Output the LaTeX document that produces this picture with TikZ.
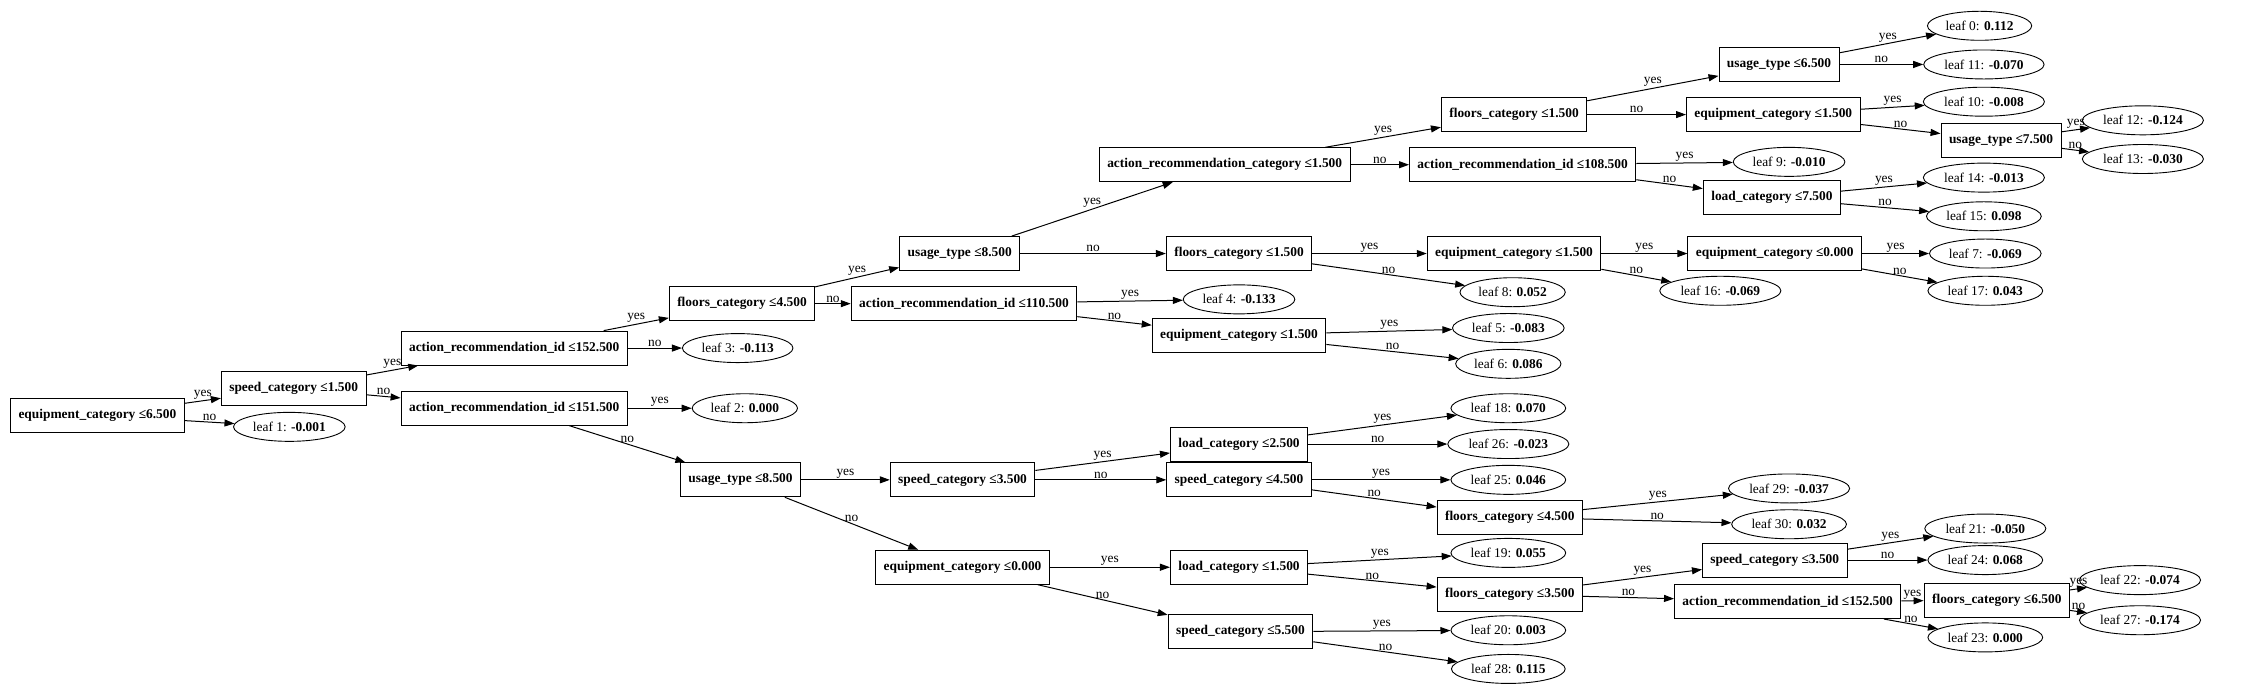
\documentclass[tikz,border=0pt]{standalone}
\usepackage{fontspec}
\setmainfont{Liberation Serif}
\usetikzlibrary{shapes.geometric,arrows.meta}
\tikzset{
  splitbox/.style={draw, line width=0.9pt, rectangle, minimum height=34pt, inner xsep=8pt, inner ysep=0pt, font=\bfseries},
  leafnode/.style={draw, line width=0.9pt, ellipse, minimum height=29pt, inner xsep=3pt, inner ysep=0pt},
  branch/.style={line width=1pt, -{Triangle[length=10pt,width=7pt]}},
  brlabel/.style={midway, above, inner sep=1pt}
}
\begin{document}
\fontsize{13.4pt}{15pt}\selectfont
\begin{tikzpicture}[x=1.4324pt, y=-1.4324pt]
\useasboundingbox[fill=white] (0,0) rectangle (1568,488);
\node[splitbox] (root) at (68,290) {equipment\_category ≤6.500};
\node[leafnode] (l1) at (202,298) {leaf 1: \textbf{-0.001}};
\node[splitbox] (sp15) at (205,271) {speed\_category ≤1.500};
\node[splitbox] (ar152) at (359,243) {action\_recommendation\_id ≤152.500};
\node[leafnode] (l3) at (515,243) {leaf 3: \textbf{-0.113}};
\node[splitbox] (ar151) at (359,285) {action\_recommendation\_id ≤151.500};
\node[leafnode] (l2) at (520,285) {leaf 2: \textbf{0.000}};
\node[splitbox] (fl45) at (518,212) {floors\_category ≤4.500};
\node[splitbox] (us85) at (670,177) {usage\_type ≤8.500};
\node[splitbox] (ar110) at (673,212) {action\_recommendation\_id ≤110.500};
\node[leafnode] (l4) at (865,209) {leaf 4: \textbf{-0.133}};
\node[splitbox] (eq15m) at (865,234) {equipment\_category ≤1.500};
\node[leafnode] (l5) at (1053,229) {leaf 5: \textbf{-0.083}};
\node[leafnode] (l6) at (1053,254) {leaf 6: \textbf{0.086}};
\node[splitbox] (arc15) at (855,115) {action\_recommendation\_category ≤1.500};
\node[splitbox] (fl15m) at (865,177) {floors\_category ≤1.500};
\node[splitbox] (fl15t) at (1057,80) {floors\_category ≤1.500};
\node[splitbox] (ar108) at (1063,115) {action\_recommendation\_id ≤108.500};
\node[splitbox] (us65) at (1242,45) {usage\_type ≤6.500};
\node[splitbox] (eq15t) at (1238,80) {equipment\_category ≤1.500};
\node[leafnode] (l9) at (1249,113) {leaf 9: \textbf{-0.010}};
\node[splitbox] (ld75) at (1237,138) {load\_category ≤7.500};
\node[leafnode] (l0) at (1382,18) {leaf 0: \textbf{0.112}};
\node[leafnode] (l11) at (1385,45) {leaf 11: \textbf{-0.070}};
\node[leafnode] (l10) at (1385,71) {leaf 10: \textbf{-0.008}};
\node[splitbox] (us75) at (1397,98) {usage\_type ≤7.500};
\node[leafnode] (l12) at (1496,84) {leaf 12: \textbf{-0.124}};
\node[leafnode] (l13) at (1496,111) {leaf 13: \textbf{-0.030}};
\node[leafnode] (l14) at (1385,124) {leaf 14: \textbf{-0.013}};
\node[leafnode] (l15) at (1385,151) {leaf 15: \textbf{0.098}};
\node[splitbox] (eq15r) at (1057,177) {equipment\_category ≤1.500};
\node[leafnode] (l8) at (1056,204) {leaf 8: \textbf{0.052}};
\node[splitbox] (eq00t) at (1239,177) {equipment\_category ≤0.000};
\node[leafnode] (l16) at (1201,203) {leaf 16: \textbf{-0.069}};
\node[leafnode] (l7) at (1386,177) {leaf 7: \textbf{-0.069}};
\node[leafnode] (l17) at (1386,203) {leaf 17: \textbf{0.043}};
\node[splitbox] (us85b) at (517,335) {usage\_type ≤8.500};
\node[splitbox] (sp35) at (672,335) {speed\_category ≤3.500};
\node[splitbox] (eq00b) at (672,396) {equipment\_category ≤0.000};
\node[splitbox] (ld25) at (865,310) {load\_category ≤2.500};
\node[splitbox] (sp45) at (865,335) {speed\_category ≤4.500};
\node[leafnode] (l18) at (1053,285) {leaf 18: \textbf{0.070}};
\node[leafnode] (l26) at (1053,310) {leaf 26: \textbf{-0.023}};
\node[leafnode] (l25) at (1053,335) {leaf 25: \textbf{0.046}};
\node[splitbox] (fl45b) at (1054,361) {floors\_category ≤4.500};
\node[leafnode] (l29) at (1249,341) {leaf 29: \textbf{-0.037}};
\node[leafnode] (l30) at (1249,366) {leaf 30: \textbf{0.032}};
\node[splitbox] (ld15) at (865,396) {load\_category ≤1.500};
\node[leafnode] (l19) at (1053,386) {leaf 19: \textbf{0.055}};
\node[splitbox] (fl35) at (1054,415) {floors\_category ≤3.500};
\node[splitbox] (sp35r) at (1239,391) {speed\_category ≤3.500};
\node[leafnode] (l21) at (1386,369) {leaf 21: \textbf{-0.050}};
\node[leafnode] (l24) at (1386,391) {leaf 24: \textbf{0.068}};
\node[splitbox] (ar152r) at (1248,420) {action\_recommendation\_id ≤152.500};
\node[splitbox] (fl65) at (1394,419) {floors\_category ≤6.500};
\node[leafnode] (l22) at (1494,405) {leaf 22: \textbf{-0.074}};
\node[leafnode] (l27) at (1494,433) {leaf 27: \textbf{-0.174}};
\node[leafnode] (l23) at (1386,445) {leaf 23: \textbf{0.000}};
\node[splitbox] (sp55) at (866,441) {speed\_category ≤5.500};
\node[leafnode] (l20) at (1053,440) {leaf 20: \textbf{0.003}};
\node[leafnode] (l28) at (1053,467) {leaf 28: \textbf{0.115}};
\foreach \a/\b/\t in {root/sp15/yes, root/l1/no, sp15/ar152/yes, sp15/ar151/no,
  ar152/fl45/yes, ar152/l3/no, ar151/l2/yes, ar151/us85b/no,
  fl45/us85/yes, fl45/ar110/no, us85/arc15/yes, us85/fl15m/no,
  ar110/l4/yes, ar110/eq15m/no, eq15m/l5/yes, eq15m/l6/no,
  arc15/fl15t/yes, arc15/ar108/no, fl15t/us65/yes, fl15t/eq15t/no,
  us65/l0/yes, us65/l11/no, eq15t/l10/yes, eq15t/us75/no,
  us75/l12/yes, us75/l13/no, ar108/l9/yes, ar108/ld75/no,
  ld75/l14/yes, ld75/l15/no, fl15m/eq15r/yes, fl15m/l8/no,
  eq15r/eq00t/yes, eq15r/l16/no, eq00t/l7/yes, eq00t/l17/no,
  us85b/sp35/yes, us85b/eq00b/no, sp35/ld25/yes, sp35/sp45/no,
  ld25/l18/yes, ld25/l26/no, sp45/l25/yes, sp45/fl45b/no,
  fl45b/l29/yes, fl45b/l30/no, eq00b/ld15/yes, eq00b/sp55/no,
  ld15/l19/yes, ld15/fl35/no, fl35/sp35r/yes, fl35/ar152r/no,
  sp35r/l21/yes, sp35r/l24/no, ar152r/fl65/yes, ar152r/l23/no,
  fl65/l22/yes, fl65/l27/no, sp55/l20/yes, sp55/l28/no}
  \draw[branch] (\a) -- node[brlabel] {\t} (\b);
\end{tikzpicture}
\end{document}
